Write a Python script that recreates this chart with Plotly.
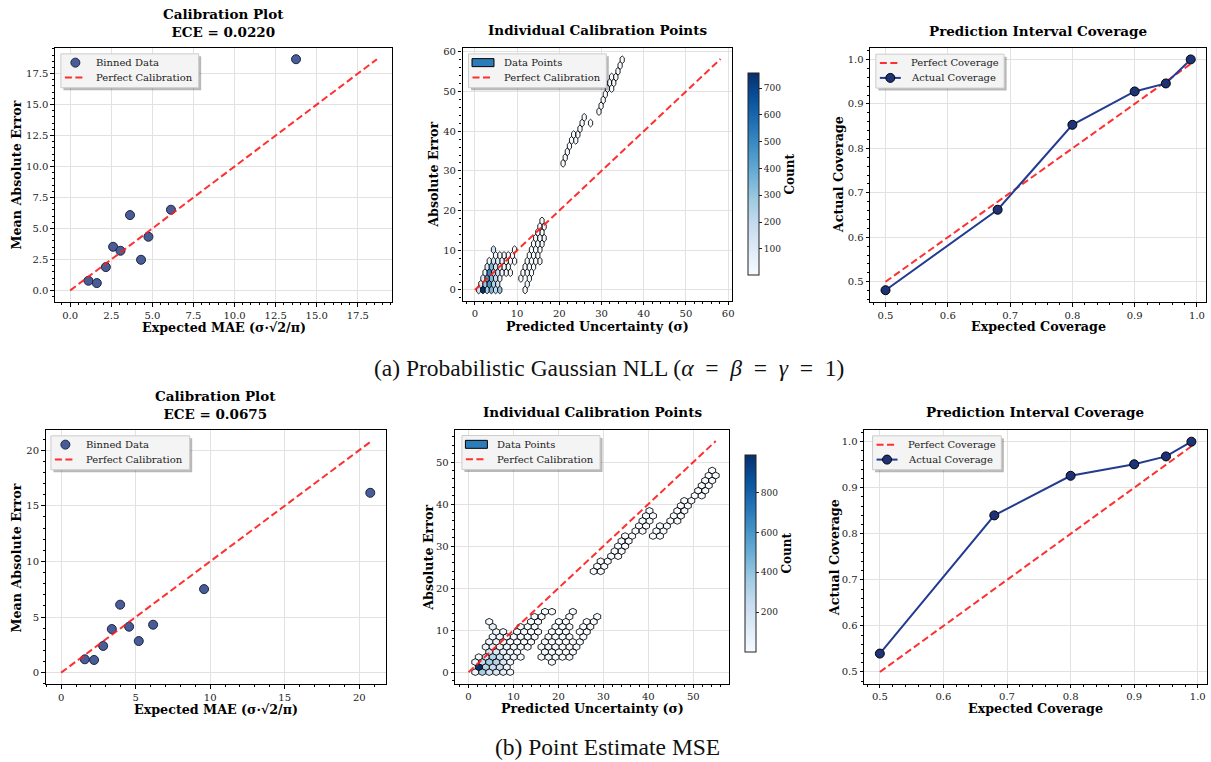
import plotly.graph_objects as go
from plotly.colors import sample_colorscale

W, H = 1211, 762
BODY = 0
FONT = "DejaVu Serif"
TXT = "#222222"

# ---------------- data ----------------
# (a) calibration (binned)
calA_x = [1.11, 1.62, 2.17, 2.61, 3.06, 3.64, 4.31, 4.76, 6.13, 13.74]
calA_y = [0.78, 0.59, 1.88, 3.52, 3.20, 6.08, 2.47, 4.33, 6.51, 18.66]
# (b) calibration (binned)
calB_x = [1.59, 2.21, 2.82, 3.40, 3.96, 4.56, 5.21, 6.17, 9.59, 20.74]
calB_y = [1.20, 1.14, 2.40, 3.92, 6.11, 4.13, 2.84, 4.31, 7.51, 16.17]

# coverage
cov_expected = [0.5, 0.68, 0.8, 0.9, 0.95, 0.99]
covA_actual = [0.481, 0.662, 0.853, 0.928, 0.946, 1.0]
covB_actual = [0.540, 0.840, 0.926, 0.951, 0.968, 1.0]
cov_ticks = [0.5, 0.6, 0.7, 0.8, 0.9, 1.0]

# individual points (hexbin cells): (row y, cell x centres, counts)
sigA_max = 58.2
hexA_rows = [
    (0.0,   [0.9, 1.9, 2.9, 3.9, 4.9, 5.9, 11.9], [150, 750, 250, 350, 200, 300, 8]),
    (1.45,  [1.4, 2.4, 3.4, 4.4, 5.4, 12.4], [100, 300, 450, 250, 150, 6]),
    (2.9,   [1.9, 2.9, 3.9, 4.9, 5.9, 10.9, 12.9], [80, 450, 350, 200, 60, 5, 8]),
    (4.35,  [2.4, 3.4, 4.4, 5.4, 6.4, 7.4, 8.4, 11.4, 12.4, 13.4], [60, 500, 250, 150, 40, 20, 10, 6, 10, 8]),
    (5.8,   [2.9, 3.9, 4.9, 5.9, 6.9, 7.9, 11.9, 12.9, 13.9], [100, 350, 150, 60, 20, 10, 8, 12, 6]),
    (7.25,  [3.4, 4.4, 5.4, 6.4, 7.4, 8.4, 9.4, 12.4, 13.4, 14.4, 15.4], [40, 150, 100, 40, 10, 5, 3, 6, 10, 8, 4]),
    (8.7,   [4.9, 5.9, 6.9, 7.9, 8.9, 12.9, 13.9, 14.9], [30, 20, 10, 5, 3, 5, 8, 6]),
    (10.15, [4.4, 9.4, 13.4, 14.4, 15.4], [150, 2, 5, 7, 5]),
    (11.6,  [13.9, 14.9, 15.9], [5, 6, 4]),
    (13.05, [14.4, 15.4, 16.4], [4, 5, 3]),
    (14.5,  [14.9, 15.9], [4, 3]),
    (15.95, [15.4, 16.4], [3, 3]),
    (17.4,  [15.9], [2]),
    (31.9,  [20.9], [2]),
    (33.35, [21.4], [2]),
    (34.8,  [21.9], [2]),
    (36.25, [22.4], [2]),
    (37.7,  [22.9, 23.9], [2, 1]),
    (39.15, [23.4, 24.4], [2, 2]),
    (40.6,  [24.9], [2]),
    (42.05, [25.4, 27.4], [2, 1]),
    (43.5,  [25.9], [1]),
    (44.95, [29.4], [1]),
    (46.4,  [29.9], [2]),
    (47.85, [30.4], [2]),
    (49.3,  [30.9], [2]),
    (50.75, [31.4, 32.4], [2, 1]),
    (52.2,  [31.9, 32.9], [2, 2]),
    (53.65, [32.4, 33.4], [1, 2]),
    (55.1,  [33.9], [2]),
    (56.55, [34.4], [2]),
    (58.0,  [34.9], [1]),
]
hexA_cell = (1.0, 2.9)      # bin width, bin row period
hexA_range = (1, 755)

sigB_max = 55.0
hexB_rows = [
    (0.0,  [1.5, 3.05, 4.6, 6.15, 7.7, 9.25], [60, 350, 200, 150, 100, 20]),
    (1.2,  [2.28, 3.83, 5.38, 6.93, 8.48], [985, 300, 250, 200, 60]),
    (2.4,  [1.5, 3.05, 4.6, 6.15, 7.7, 9.25, 18.55], [30, 250, 350, 300, 150, 40, 5]),
    (3.6,  [2.28, 3.83, 5.38, 6.93, 8.48, 10.03, 11.58, 16.23, 17.78, 19.33, 20.88, 22.43],
           [10, 200, 300, 200, 80, 30, 10, 10, 15, 12, 8, 5]),
    (4.8,  [4.6, 6.15, 7.7, 9.25, 10.8, 17.0, 18.55, 20.1, 21.65, 23.2],
           [200, 150, 80, 40, 15, 15, 20, 15, 10, 5]),
    (6.0,  [3.83, 5.38, 6.93, 8.48, 10.03, 11.58, 13.13, 16.23, 17.78, 19.33, 20.88, 22.43, 23.98],
           [60, 100, 60, 40, 20, 10, 5, 10, 15, 20, 12, 8, 5]),
    (7.2,  [4.6, 6.15, 7.7, 9.25, 10.8, 12.35, 13.9, 17.0, 18.55, 20.1, 21.65, 23.2, 24.75],
           [60, 50, 40, 20, 10, 5, 3, 8, 12, 15, 10, 6, 4]),
    (8.4,  [5.38, 6.93, 8.48, 10.03, 11.58, 13.13, 14.68, 17.78, 19.33, 20.88, 22.43, 25.53],
           [20, 30, 20, 15, 10, 5, 3, 8, 10, 8, 5, 4]),
    (9.6,  [6.15, 7.7, 10.8, 12.35, 13.9, 15.45, 18.55, 20.1, 21.65, 24.75, 26.3],
           [40, 20, 10, 8, 5, 3, 6, 8, 5, 4, 3]),
    (10.8, [5.38, 11.58, 13.13, 14.68, 19.33, 20.88, 22.43, 25.53, 27.08], [100, 5, 4, 3, 4, 5, 4, 3, 3]),
    (12.0, [4.6, 13.9, 15.45, 20.1, 21.65, 26.3, 27.85], [20, 3, 2, 3, 3, 2, 2]),
    (13.2, [14.68, 16.23, 22.43, 28.63], [2, 2, 2, 2]),
    (14.4, [17.0, 18.55, 23.2], [2, 1, 1]),
    (24.0, [27.85, 29.4], [2, 2]),
    (25.2, [28.63, 30.18], [2, 1]),
    (26.4, [29.4, 30.95], [2, 2]),
    (27.6, [31.73, 33.28], [2, 1]),
    (28.8, [32.5, 34.05], [2, 2]),
    (30.0, [33.28, 34.83], [1, 2]),
    (31.2, [34.05, 35.6], [2, 2]),
    (32.4, [34.83, 36.38, 41.03, 42.58], [2, 1, 1, 2]),
    (33.6, [37.15, 38.7, 41.8, 43.35], [2, 2, 2, 1]),
    (34.8, [37.93, 39.48, 42.58, 44.13], [1, 2, 2, 2]),
    (36.0, [38.7, 40.25, 44.9, 46.45], [2, 1, 2, 2]),
    (37.2, [39.48, 41.03, 45.68, 47.23], [2, 2, 1, 2]),
    (38.4, [40.25, 46.45, 48.0], [1, 2, 2]),
    (39.6, [47.23, 48.78], [2, 1]),
    (40.8, [48.0, 49.55], [2, 2]),
    (42.0, [50.33, 51.88], [1, 2]),
    (43.2, [51.1, 52.65], [2, 2]),
    (44.4, [51.88, 53.43], [2, 1]),
    (45.6, [52.65, 54.2], [2, 2]),
    (46.8, [53.43, 54.98], [1, 2]),
    (48.0, [54.2], [1]),
]
hexB_cell = (1.55, 2.4)
hexB_range = (1, 990)

# ---------------- styling helpers ----------------
BLUES = [[0.0, 'rgb(247,251,255)'], [0.125, 'rgb(222,235,247)'], [0.25, 'rgb(198,219,239)'],
         [0.375, 'rgb(158,202,225)'], [0.5, 'rgb(107,174,214)'], [0.625, 'rgb(66,146,198)'],
         [0.75, 'rgb(33,113,181)'], [0.875, 'rgb(8,81,156)'], [1.0, 'rgb(8,48,107)']]
HEX = [(.5, -.5), (.5, .5), (0, 1), (-.5, .5), (-.5, -.5), (0, -1), (.5, -.5)]
RED = 'rgba(255,25,25,0.9)'
DASH = '7px,3.5px'
PT_FILL = 'rgb(72,93,152)'
PT_EDGE = '#1c2440'
COV_LINE = 'rgb(35,60,145)'
COV_FILL = 'rgb(30,50,120)'
PATCH = 'rgb(44,124,186)'


def px_x(p):
    return (p - BODY) / W


def px_y(p):
    return 1 - (p - BODY) / H


def hex_traces(rows, cell, vrange, xa, ya):
    sx, sy = cell
    vmin, vmax = vrange
    groups = {}
    for y, xs, ns in rows:
        for x, n in zip(xs, ns):
            groups.setdefault(n, []).append((x, y))
    out = []
    for n, cells in sorted(groups.items()):
        hx, hy = [], []
        for cx, cy in cells:
            for dx, dy in HEX:
                hx.append(cx + dx * sx)
                hy.append(cy + dy * sy / 3)
            hx.append(None)
            hy.append(None)
        col = sample_colorscale(BLUES, [(n - vmin) / (vmax - vmin)])[0]
        out.append(go.Scatter(x=hx, y=hy, mode='lines', fill='toself', fillcolor=col,
                              line=dict(color='black', width=0.85), xaxis=xa, yaxis=ya,
                              showlegend=False, hoverinfo='skip'))
    return out


def colorbar_trace(vrange, xa, ya, left, top, length, tickvals):
    return go.Scatter(
        x=[None], y=[None], mode='markers', xaxis=xa, yaxis=ya, showlegend=False, hoverinfo='skip',
        marker=dict(color=list(vrange), colorscale=BLUES, cmin=vrange[0], cmax=vrange[1], showscale=True,
                    colorbar=dict(x=px_x(left), xanchor='left', xpad=0, y=px_y(top), yanchor='top', ypad=0,
                                  len=length, lenmode='pixels', thickness=11, thicknessmode='pixels',
                                  outlinewidth=1, outlinecolor='#222', tickvals=tickvals, ticks='outside',
                                  ticklen=3, tickwidth=1, tickcolor='#222',
                                  tickfont=dict(family=FONT, size=9, color=TXT),
                                  title=dict(text='<b>Count</b>', side='right',
                                             font=dict(family=FONT, size=12, color='black')))))


fig = go.Figure()

# ---- (a) calibration plot ----
fig.add_trace(go.Scatter(x=calA_x, y=calA_y, mode='markers', name='Binned Data', showlegend=False,
                         marker=dict(size=9, color=PT_FILL, line=dict(color=PT_EDGE, width=1)),
                         xaxis='x', yaxis='y'))
mA = max(max(calA_x), max(calA_y))
fig.add_trace(go.Scatter(x=[0, mA], y=[0, mA], mode='lines', name='Perfect Calibration', showlegend=False,
                         line=dict(color=RED, width=2, dash=DASH), xaxis='x', yaxis='y'))

# ---- (a) individual points ----
for t in hex_traces(hexA_rows, hexA_cell, hexA_range, 'x2', 'y2'):
    fig.add_trace(t)
fig.add_trace(go.Scatter(x=[0, sigA_max], y=[0, sigA_max], mode='lines', name='Perfect Calibration',
                         showlegend=False, line=dict(color=RED, width=2, dash=DASH), xaxis='x2', yaxis='y2'))
fig.add_trace(colorbar_trace(hexA_range, 'x2', 'y2', 749, 71.5, 201.5, [100, 200, 300, 400, 500, 600, 700]))

# ---- (a) coverage ----
fig.add_trace(go.Scatter(x=[cov_expected[0], cov_expected[-1]], y=[cov_expected[0], cov_expected[-1]],
                         mode='lines', name='Perfect Coverage', showlegend=False,
                         line=dict(color=RED, width=2, dash=DASH), xaxis='x3', yaxis='y3'))
fig.add_trace(go.Scatter(x=cov_expected, y=covA_actual, mode='lines+markers', name='Actual Coverage',
                         showlegend=False, line=dict(color=COV_LINE, width=2),
                         marker=dict(size=9, color=COV_FILL, line=dict(color='black', width=1)),
                         xaxis='x3', yaxis='y3'))

# ---- (b) calibration plot ----
fig.add_trace(go.Scatter(x=calB_x, y=calB_y, mode='markers', name='Binned Data', showlegend=False,
                         marker=dict(size=9, color=PT_FILL, line=dict(color=PT_EDGE, width=1)),
                         xaxis='x4', yaxis='y4'))
mB = max(max(calB_x), max(calB_y))
fig.add_trace(go.Scatter(x=[0, mB], y=[0, mB], mode='lines', name='Perfect Calibration', showlegend=False,
                         line=dict(color=RED, width=2, dash=DASH), xaxis='x4', yaxis='y4'))

# ---- (b) individual points ----
for t in hex_traces(hexB_rows, hexB_cell, hexB_range, 'x5', 'y5'):
    fig.add_trace(t)
fig.add_trace(go.Scatter(x=[0, sigB_max], y=[0, sigB_max], mode='lines', name='Perfect Calibration',
                         showlegend=False, line=dict(color=RED, width=2, dash=DASH), xaxis='x5', yaxis='y5'))
fig.add_trace(colorbar_trace(hexB_range, 'x5', 'y5', 746, 454, 197, [200, 400, 600, 800]))

# ---- (b) coverage ----
fig.add_trace(go.Scatter(x=[cov_expected[0], cov_expected[-1]], y=[cov_expected[0], cov_expected[-1]],
                         mode='lines', name='Perfect Coverage', showlegend=False,
                         line=dict(color=RED, width=2, dash=DASH), xaxis='x6', yaxis='y6'))
fig.add_trace(go.Scatter(x=cov_expected, y=covB_actual, mode='lines+markers', name='Actual Coverage',
                         showlegend=False, line=dict(color=COV_LINE, width=2),
                         marker=dict(size=9, color=COV_FILL, line=dict(color='black', width=1)),
                         xaxis='x6', yaxis='y6'))


# ---------------- axes ----------------
def axis(dom, rng, dtick, minor, fmt=None, anchor=None, tickvals=None):
    d = dict(domain=dom, range=rng, showline=True, linecolor='black', linewidth=1.2,
             mirror=True, ticks='outside', ticklen=3.5, tickwidth=1, tickcolor='black', showgrid=True,
             gridcolor='#e2e2e2', gridwidth=1, zeroline=False, anchor=anchor, ticklabeloverflow='allow',
             tickfont=dict(family=FONT, size=10, color=TXT),
             minor=dict(ticks='outside', ticklen=2, tickwidth=0.8, tickcolor='black', dtick=minor, tick0=0,
                        showgrid=False))
    if tickvals is not None:
        d['tickmode'] = 'array'
        d['tickvals'] = tickvals
        d['ticktext'] = ['%.1f' % v for v in tickvals]
    else:
        d['dtick'] = dtick
        d['tick0'] = 0
    if fmt:
        d['tickformat'] = fmt
    return d


boxes = [  # left, right, top, bottom (window px)
    (55, 393, 45.7, 300.7),
    (463.3, 733.3, 46, 299.3),
    (871.7, 1208, 46, 301),
    (45.7, 386.7, 429.3, 684),
    (456, 730, 429.3, 683.3),
    (865.7, 1209, 429.3, 683.3),
]
specs = [
    ([-0.93, 19.6], [-0.93, 19.6], 2.5, 0.5, '.1f', '.1f', None),
    ([-2.93, 60.94], [-2.66, 61.0], 10, 2, None, None, None),
    ([0.4755, 1.0145], [0.454, 1.026], 0.1, 0.02, None, None, cov_ticks),
    ([-1.04, 21.8], [-1.04, 21.8], 5, 1, None, None, None),
    ([-2.96, 57.9], [-2.7, 57.6], 10, 2, None, None, None),
    ([0.4755, 1.0145], [0.475, 1.025], 0.1, 0.02, None, None, cov_ticks),
]
layout_axes = {}
for i, ((l, r, t, b), (xr, yr, dt, mn, fx, fy, tv)) in enumerate(zip(boxes, specs), start=1):
    sfx = '' if i == 1 else str(i)
    layout_axes['xaxis' + sfx] = axis([px_x(l), min(1.0, px_x(r))], xr, dt, mn, fx, 'y' + sfx, tv)
    layout_axes['yaxis' + sfx] = axis([px_y(b), px_y(t)], yr, dt, mn, fy, 'x' + sfx, tv)

# ---------------- legends (drawn as boxes in paper space) ----------------
shapes = []
ann = []


def pshape(**kw):
    kw.setdefault('xref', 'paper')
    kw.setdefault('yref', 'paper')
    kw.setdefault('layer', 'above')
    shapes.append(kw)


def legend_box(L, T, w, items):
    h = 34
    pshape(type='rect', x0=px_x(L + 2.5), x1=px_x(L + w + 2.5), y0=px_y(T + h + 2.5), y1=px_y(T + 2.5),
           fillcolor='rgba(0,0,0,0.28)', line=dict(width=0))
    pshape(type='rect', x0=px_x(L), x1=px_x(L + w), y0=px_y(T + h), y1=px_y(T),
           fillcolor='rgb(244,244,244)', line=dict(color='#cccccc', width=1))
    for j, (kind, label) in enumerate(items):
        cy = T + 8.8 + 15 * j
        sx0, sx1 = L + 4, L + 25
        cx = (sx0 + sx1) / 2
        if kind in ('dash', 'line'):
            pshape(type='line', x0=px_x(sx0), x1=px_x(sx1), y0=px_y(cy), y1=px_y(cy),
                   line=dict(color=RED if kind == 'dash' else COV_LINE, width=2,
                             dash=DASH if kind == 'dash' else 'solid'))
        if kind == 'line':
            pshape(type='circle', x0=px_x(cx - 4.5), x1=px_x(cx + 4.5), y0=px_y(cy + 4.5), y1=px_y(cy - 4.5),
                   fillcolor=COV_FILL, line=dict(color='black', width=1))
        if kind == 'marker':
            pshape(type='circle', x0=px_x(cx - 4.5), x1=px_x(cx + 4.5), y0=px_y(cy + 4.5), y1=px_y(cy - 4.5),
                   fillcolor=PT_FILL, line=dict(color=PT_EDGE, width=1))
        if kind == 'patch':
            pshape(type='rect', x0=px_x(sx0 - 0.5), x1=px_x(sx1 + 0.5), y0=px_y(cy + 4), y1=px_y(cy - 4),
                   fillcolor=PATCH, line=dict(color='black', width=1))
        ann.append(dict(text=label, x=px_x(L + 33.5), y=px_y(cy), xref='paper', yref='paper',
                        showarrow=False, xanchor='left', yanchor='middle',
                        font=dict(family=FONT, size=10, color=TXT)))


legend_box(61, 52, 138, [('marker', 'Binned Data'), ('dash', 'Perfect Calibration')])
legend_box(469.3, 52, 138, [('patch', 'Data Points'), ('dash', 'Perfect Calibration')])
legend_box(877.3, 52.3, 128.5, [('dash', 'Perfect Coverage'), ('line', 'Actual Coverage')])
legend_box(51, 435, 139, [('marker', 'Binned Data'), ('dash', 'Perfect Calibration')])
legend_box(462.7, 434.7, 138.3, [('patch', 'Data Points'), ('dash', 'Perfect Calibration')])
legend_box(874, 435, 129, [('dash', 'Perfect Coverage'), ('line', 'Actual Coverage')])


# ---------------- text ----------------
def text(s, x, y, size, rot=0, bold=True, family=FONT, color='black'):
    ann.append(dict(text=('<b>%s</b>' % s) if bold else s, x=px_x(x), y=px_y(y), xref='paper', yref='paper',
                    showarrow=False, xanchor='center', yanchor='middle', textangle=rot,
                    font=dict(family=family, size=size, color=color)))


text('Calibration Plot<br>ECE = 0.0220', 224, 21.5, 13.5)
text('Individual Calibration Points', 598, 28.5, 13.5)
text('Prediction Interval Coverage', 1040, 29, 13.5)
text('Calibration Plot<br>ECE = 0.0675', 216, 404.5, 13.5)
text('Individual Calibration Points', 593, 411.5, 13.5)
text('Prediction Interval Coverage', 1037, 411.5, 13.5)

text('Expected MAE (σ·√2/π)', 224, 326, 12.7)
text('Mean Absolute Error', 17, 173, 12.7, rot=-90)
text('Predicted Uncertainty (σ)', 598, 325, 12.7)
text('Absolute Error', 434, 173, 12.7, rot=-90)
text('Expected Coverage', 1040, 325, 12.7)
text('Actual Coverage', 840, 173, 12.7, rot=-90)

text('Expected MAE (σ·√2/π)', 216, 709, 12.7)
text('Mean Absolute Error', 17, 557, 12.7, rot=-90)
text('Predicted Uncertainty (σ)', 593, 708, 12.7)
text('Absolute Error', 429, 557, 12.7, rot=-90)
text('Expected Coverage', 1037, 708, 12.7)
text('Actual Coverage', 836, 557, 12.7, rot=-90)

text('(a) Probabilistic Gaussian NLL (<i>α</i>&nbsp; = &nbsp;<i>β</i>&nbsp; = &nbsp;<i>γ</i>&nbsp; = &nbsp;1)',
     610, 367, 23.5, bold=False, family='Liberation Serif', color='#111')
text('(b) Point Estimate MSE', 609, 746.5, 23.5, bold=False, family='Liberation Serif', color='#111')

fig.update_layout(width=W, height=H, margin=dict(l=0, r=0, t=0, b=0), paper_bgcolor='white',
                  plot_bgcolor='white', annotations=ann, shapes=shapes, showlegend=False, **layout_axes,
                  font=dict(family=FONT, color=TXT))
# drop the page's default body margin, then lay the figure out again in place
fig.write_html('out.html', config={'displayModeBar': False},
               post_script="document.body.style.margin='0px';document.body.style.overflow='hidden';"
                           "var gd=document.getElementById('{plot_id}');"
                           "Plotly.newPlot(gd, gd.data, gd.layout, {displayModeBar:false});")
